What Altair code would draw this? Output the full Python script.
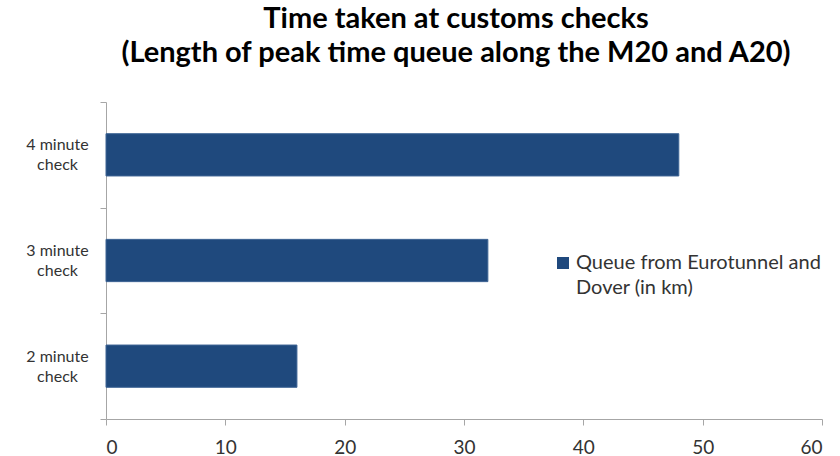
import altair as alt
import pandas as pd

# Queue length (km) for each customs check duration
categories = ["4 minute check", "3 minute check", "2 minute check"]
queue_km = [48, 32, 16]
series_name = "Queue from Eurotunnel and Dover (in km)"

x_ticks = [0, 10, 20, 30, 40, 50, 60]

df = pd.DataFrame({
    "check": categories,
    "queue": queue_km,
    "series": [series_name] * len(categories),
})

FONT = "Lato"
TEXT = "#333333"
AXIS = "#A6A6A6"

bars = alt.Chart(df).mark_bar(
    color="#1F497D", stroke="#3E6494", strokeWidth=1,
    height=alt.RelativeBandSize(0.4),
).encode(
    x=alt.X(
        "queue:Q",
        scale=alt.Scale(domain=[0, 60], nice=False),
        axis=alt.Axis(
            title=None, values=x_ticks, grid=False, format="d",
            tickSize=6, labelPadding=13, labelFontSize=19,
            labelFont=FONT, labelColor=TEXT,
            domainColor=AXIS, tickColor=AXIS,
        ),
    ),
    y=alt.Y(
        "check:N",
        sort=categories,
        scale=alt.Scale(paddingInner=0, paddingOuter=0),
        axis=alt.Axis(
            title=None, tickBand="extent", tickSize=6,
            labelExpr="indexof(datum.label, 'check') < 0 ? '' : "
                      "[replace(datum.label, ' check', ''), 'check']",
            labelAlign="center", labelBaseline="middle", labelOffset=-10,
            labelPadding=43, labelLineHeight=20, labelFontSize=16,
            labelFont=FONT, labelColor=TEXT,
            domainColor=AXIS, tickColor=AXIS,
        ),
    ),
    color=alt.Color(
        "series:N",
        scale=alt.Scale(range=["#1F497D"]),
        legend=alt.Legend(
            title=None, orient="none", legendX=447, legendY=151,
            symbolType="square", symbolSize=144, symbolStrokeWidth=0,
            labelExpr="['Queue from Eurotunnel and', 'Dover (in km)']",
            labelFontSize=20, labelFont=FONT, labelColor=TEXT,
            labelLimit=400, labelOffset=3,
        ),
    ),
)

chart = bars.properties(
    width=716,
    height=317,
    autosize=alt.AutoSizeParams(type="none"),
    padding={"left": 106, "top": 102, "right": 18, "bottom": 37},
    title=alt.TitleParams(
        text=["Time taken at customs checks",
              "(Length of peak time queue along the M20 and A20)"],
        font=FONT, fontSize=29, fontWeight="bold", color="#000000",
        lineHeight=34, anchor="middle", offset=26, dx=-8,
    ),
).configure(
    style={"guide-label": {"lineHeight": 25}}
).configure_view(stroke=None)

chart.save("out.html", embed_options={"renderer": "svg", "actions": False})
